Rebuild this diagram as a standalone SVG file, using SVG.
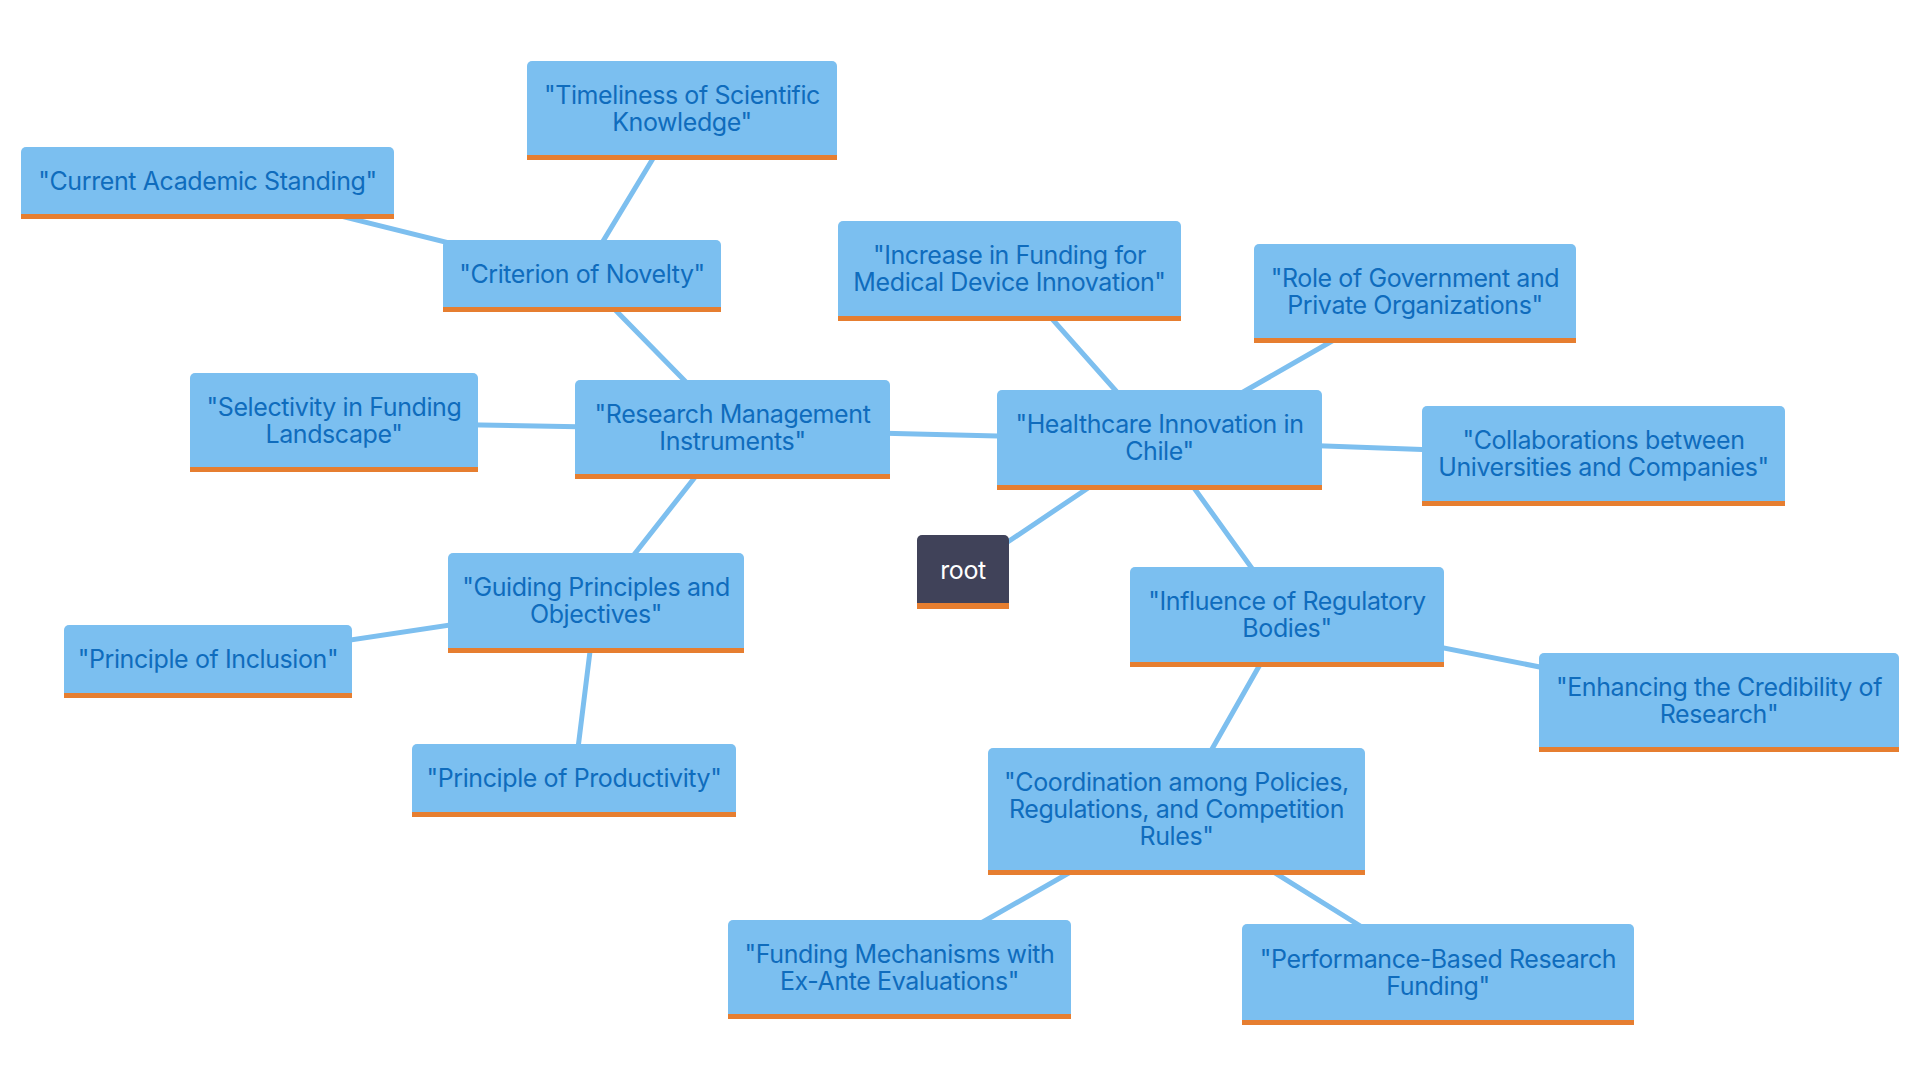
<svg xmlns="http://www.w3.org/2000/svg" width="1920" height="1080" viewBox="0 0 1920 1080">
<style>
.bg{fill:#ffffff}
.edge{stroke:#7dbfef;stroke-width:5;fill:none;stroke-linecap:round}
.box{fill:#7bbff0}
.rootbox{fill:#404259}
.band{fill:#e67e30}
.lbl{font-family:Inter,"Noto Sans","Liberation Sans",sans-serif;font-size:25px;letter-spacing:-0.4px;fill:#0f6cbd;text-anchor:middle}
.rootlbl{font-family:Inter,"Noto Sans","Liberation Sans",sans-serif;font-size:25px;letter-spacing:-0.4px;fill:#ffffff;text-anchor:middle}
</style>
<rect class="bg" x="0" y="0" width="1920" height="1080"/>
<g id="connectors">
<line class="edge" x1="963" y1="572" x2="1159.5" y2="440"/>
<line class="edge" x1="1159.5" y1="440" x2="732.5" y2="429.5"/>
<line class="edge" x1="1159.5" y1="440" x2="1009.5" y2="271"/>
<line class="edge" x1="1159.5" y1="440" x2="1415" y2="293.5"/>
<line class="edge" x1="1159.5" y1="440" x2="1603.5" y2="456"/>
<line class="edge" x1="1159.5" y1="440" x2="1287" y2="617"/>
<line class="edge" x1="732.5" y1="429.5" x2="582" y2="276"/>
<line class="edge" x1="732.5" y1="429.5" x2="334" y2="422.5"/>
<line class="edge" x1="732.5" y1="429.5" x2="596" y2="603"/>
<line class="edge" x1="582" y1="276" x2="682" y2="110.5"/>
<line class="edge" x1="582" y1="276" x2="207.5" y2="183"/>
<line class="edge" x1="596" y1="603" x2="208" y2="661.5"/>
<line class="edge" x1="596" y1="603" x2="574" y2="780.5"/>
<line class="edge" x1="1287" y1="617" x2="1719" y2="702.5"/>
<line class="edge" x1="1287" y1="617" x2="1176.5" y2="811.5"/>
<line class="edge" x1="1176.5" y1="811.5" x2="899.5" y2="969.5"/>
<line class="edge" x1="1176.5" y1="811.5" x2="1438" y2="974.5"/>
</g>
<g id="node-timeliness">
<rect class="box" x="527" y="61" width="310" height="99" rx="5"/>
<rect class="band" x="527" y="155" width="310" height="5"/>
<text class="lbl" x="682" y="103.5">"Timeliness of Scientific</text>
<text class="lbl" x="682" y="130.5">Knowledge"</text>
</g>
<g id="node-current">
<rect class="box" x="21" y="147" width="373" height="72" rx="5"/>
<rect class="band" x="21" y="214" width="373" height="5"/>
<text class="lbl" x="207.5" y="189.5">"Current Academic Standing"</text>
</g>
<g id="node-criterion">
<rect class="box" x="443" y="240" width="278" height="72" rx="5"/>
<rect class="band" x="443" y="307" width="278" height="5"/>
<text class="lbl" x="582" y="282.5">"Criterion of Novelty"</text>
</g>
<g id="node-selectivity">
<rect class="box" x="190" y="373" width="288" height="99" rx="5"/>
<rect class="band" x="190" y="467" width="288" height="5"/>
<text class="lbl" x="334" y="415.5">"Selectivity in Funding</text>
<text class="lbl" x="334" y="442.5">Landscape"</text>
</g>
<g id="node-research">
<rect class="box" x="575" y="380" width="315" height="99" rx="5"/>
<rect class="band" x="575" y="474" width="315" height="5"/>
<text class="lbl" x="732.5" y="422.5">"Research Management</text>
<text class="lbl" x="732.5" y="449.5">Instruments"</text>
</g>
<g id="node-increase">
<rect class="box" x="838" y="221" width="343" height="100" rx="5"/>
<rect class="band" x="838" y="316" width="343" height="5"/>
<text class="lbl" x="1009.5" y="264">"Increase in Funding for</text>
<text class="lbl" x="1009.5" y="291">Medical Device Innovation"</text>
</g>
<g id="node-role">
<rect class="box" x="1254" y="244" width="322" height="99" rx="5"/>
<rect class="band" x="1254" y="338" width="322" height="5"/>
<text class="lbl" x="1415" y="286.5">"Role of Government and</text>
<text class="lbl" x="1415" y="313.5">Private Organizations"</text>
</g>
<g id="node-healthcare">
<rect class="box" x="997" y="390" width="325" height="100" rx="5"/>
<rect class="band" x="997" y="485" width="325" height="5"/>
<text class="lbl" x="1159.5" y="433">"Healthcare Innovation in</text>
<text class="lbl" x="1159.5" y="460">Chile"</text>
</g>
<g id="node-collaborations">
<rect class="box" x="1422" y="406" width="363" height="100" rx="5"/>
<rect class="band" x="1422" y="501" width="363" height="5"/>
<text class="lbl" x="1603.5" y="449">"Collaborations between</text>
<text class="lbl" x="1603.5" y="476">Universities and Companies"</text>
</g>
<g id="node-root">
<rect class="rootbox" x="917" y="535" width="92" height="74" rx="5"/>
<rect class="band" x="917" y="603" width="92" height="6"/>
<text class="rootlbl" x="963" y="578.5">root</text>
</g>
<g id="node-influence">
<rect class="box" x="1130" y="567" width="314" height="100" rx="5"/>
<rect class="band" x="1130" y="662" width="314" height="5"/>
<text class="lbl" x="1287" y="610">"Influence of Regulatory</text>
<text class="lbl" x="1287" y="637">Bodies"</text>
</g>
<g id="node-enhancing">
<rect class="box" x="1539" y="653" width="360" height="99" rx="5"/>
<rect class="band" x="1539" y="747" width="360" height="5"/>
<text class="lbl" x="1719" y="695.5">"Enhancing the Credibility of</text>
<text class="lbl" x="1719" y="722.5">Research"</text>
</g>
<g id="node-coordination">
<rect class="box" x="988" y="748" width="377" height="127" rx="5"/>
<rect class="band" x="988" y="870" width="377" height="5"/>
<text class="lbl" x="1176.5" y="791">"Coordination among Policies,</text>
<text class="lbl" x="1176.5" y="818">Regulations, and Competition</text>
<text class="lbl" x="1176.5" y="845">Rules"</text>
</g>
<g id="node-funding-mechanisms">
<rect class="box" x="728" y="920" width="343" height="99" rx="5"/>
<rect class="band" x="728" y="1014" width="343" height="5"/>
<text class="lbl" x="899.5" y="962.5">"Funding Mechanisms with</text>
<text class="lbl" x="899.5" y="989.5">Ex-Ante Evaluations"</text>
</g>
<g id="node-performance">
<rect class="box" x="1242" y="924" width="392" height="101" rx="5"/>
<rect class="band" x="1242" y="1020" width="392" height="5"/>
<text class="lbl" x="1438" y="967.5">"Performance-Based Research</text>
<text class="lbl" x="1438" y="994.5">Funding"</text>
</g>
<g id="node-guiding">
<rect class="box" x="448" y="553" width="296" height="100" rx="5"/>
<rect class="band" x="448" y="648" width="296" height="5"/>
<text class="lbl" x="596" y="596">"Guiding Principles and</text>
<text class="lbl" x="596" y="623">Objectives"</text>
</g>
<g id="node-inclusion">
<rect class="box" x="64" y="625" width="288" height="73" rx="5"/>
<rect class="band" x="64" y="693" width="288" height="5"/>
<text class="lbl" x="208" y="668">"Principle of Inclusion"</text>
</g>
<g id="node-productivity">
<rect class="box" x="412" y="744" width="324" height="73" rx="5"/>
<rect class="band" x="412" y="812" width="324" height="5"/>
<text class="lbl" x="574" y="787">"Principle of Productivity"</text>
</g>
</svg>
